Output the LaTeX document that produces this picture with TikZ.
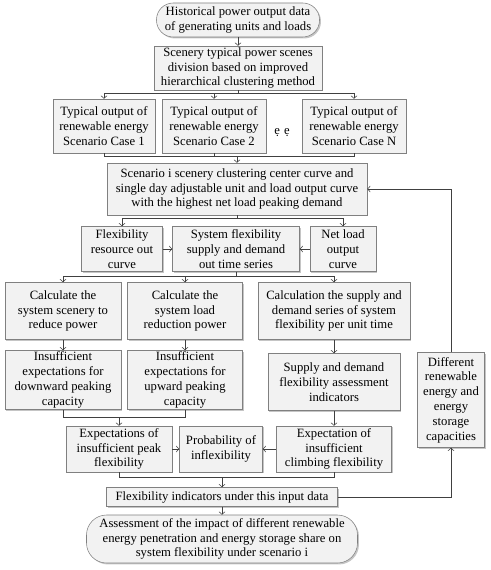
\documentclass[tikz,border=0pt]{standalone}
\usepackage{fontspec}
\setmainfont{Liberation Serif}
\usetikzlibrary{arrows.meta,shadows}
\definecolor{boxfill}{HTML}{F2F2F2}
\definecolor{boxline}{HTML}{808080}
\definecolor{wire}{HTML}{404040}

\begin{document}
\begin{tikzpicture}[x=0.75pt,y=0.75pt,
    box/.style={draw=boxline,fill=boxfill,align=center,inner sep=0pt,
        drop shadow={shadow xshift=1.1pt,shadow yshift=-1.1pt,fill=black!45},
        font=\fontsize{9.5}{11.1}\selectfont},
    endbox/.style={box,rounded corners=#1},
    boxsize/.style 2 args={minimum width=#1*0.75pt,minimum height=#2*0.75pt},
    flow/.style={wire,-{Straight Barb[length=2pt,width=4.5pt]}},
    link/.style={wire}]
    \useasboundingbox (0,0) rectangle (491,-570);

    % input and scene division
    \node[endbox=12.5pt,boxsize={163}{34}] (hist) at (238,-20) {Historical power output data\\of generating units and loads};
    \node[box,boxsize={168}{44}] (div) at (238,-68) {Scenery typical power scenes\\division based on improved\\hierarchical clustering method};
    \node[box,boxsize={102}{54}] (case1) at (104,-126) {Typical output of\\renewable energy\\Scenario Case 1};
    \node[box,boxsize={104}{54}] (case2) at (214,-126) {Typical output of\\renewable energy\\Scenario Case 2};
    \node[box,boxsize={104}{54}] (caseN) at (354,-126) {Typical output of\\renewable energy\\Scenario Case N};
    \node[font=\fontsize{9.5}{11.1}\selectfont] (dots) at (282,-133) {ẹ\,\,ẹ};
    \node[box,boxsize={260}{52}] (scen) at (237,-189) {Scenario i scenery clustering center curve and\\single day adjustable unit and load output curve\\with the highest net load peaking demand};

    % supply and demand
    \node[box,boxsize={81}{45}] (flexres) at (122,-249) {Flexibility\\resource out\\curve};
    \node[box,boxsize={127}{45}] (sysflex) at (236,-249) {System flexibility\\supply and demand\\out time series};
    \node[box,boxsize={66}{45}] (netload) at (343,-249) {Net load\\output\\curve};
    \node[box,boxsize={116}{57}] (calcred) at (63,-311) {Calculate the\\system scenery to\\reduce power};
    \node[box,boxsize={115}{57}] (calcload) at (185,-311) {Calculate the\\system load\\reduction power};
    \node[box,boxsize={152}{57}] (calcsup) at (334,-311) {Calculation the supply and\\demand series of system\\flexibility per unit time};
    \node[box,boxsize={116}{59}] (insdown) at (63,-380) {Insufficient\\expectations for\\downward peaking\\capacity};
    \node[box,boxsize={115}{59}] (insup) at (185,-380) {Insufficient\\expectations for\\upward peaking\\capacity};
    \node[box,boxsize={132}{57}] (sdind) at (334,-382) {Supply and demand\\flexibility assessment\\indicators};
    \node[box,boxsize={67}{95}] (diff) at (451,-400) {Different\\renewable\\energy and\\energy\\storage\\capacities};

    % indicators
    \node[box,boxsize={106}{46}] (peak) at (119,-449) {Expectations of\\insufficient peak\\flexibility};
    \node[box,boxsize={83}{46}] (prob) at (221,-449) {Probability of\\inflexibility};
    \node[box,boxsize={115}{46}] (climb) at (334,-449) {Expectation of\\insufficient\\climbing flexibility};
    \node[box,boxsize={231}{19}] (ind) at (222,-497) {Flexibility indicators under this input data};
    \node[endbox=15pt,boxsize={271}{48}] (assess) at (222,-539) {Assessment of the impact of different renewable\\energy penetration and energy storage share on\\system flexibility under scenario i};

    \coordinate (mcase) at (237,-156);
    \coordinate (mins) at (peak.north |- 0,-417);
    \coordinate (mexp) at (ind.north |- 0,-477);

    \draw[flow] (hist)--(div);
    \foreach \c in {case1,case2,caseN}
    {
        \draw[flow] (div.south)--++(0,-3)-|(\c.north);
        \draw[link] (\c.south)|-(mcase);
    }
    \draw[flow] (mcase)--(scen.north);
    \foreach \c in {flexres,netload}
        \draw[flow] (scen.south)--++(0,-3)-|(\c.north);
    \draw[flow] (flexres)--(sysflex);
    \draw[flow] (netload)--(sysflex);
    \foreach \c in {calcred,calcload,calcsup}
        \draw[flow] (sysflex.south)--++(0,-4.5)-|(\c.north);
    \draw[flow] (calcred)--(insdown);
    \draw[flow] (calcload)--(insup);
    \draw[flow] (calcsup)--(sdind);
    \draw[flow] (sdind)--(climb);
    \draw[link] (insdown.south)|-(mins);
    \draw[link] (insup.south)|-(mins);
    \draw[flow] (mins)--(peak.north);
    \draw[flow] (peak)--(prob);
    \draw[flow] (climb)--(prob);
    \draw[link] (peak.south)|-(mexp);
    \draw[link] (climb.south)|-(mexp);
    \draw[flow] (mexp)--(ind.north);
    \draw[flow] (ind)--(assess);
    % feedback loop
    \draw[flow] (ind.east)-|(diff.south);
    \draw[flow] (diff.north)|-(scen.east);
\end{tikzpicture}
\end{document}
